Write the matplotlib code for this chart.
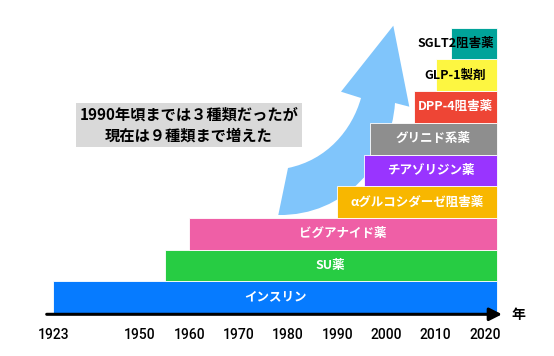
import numpy as np
import matplotlib
matplotlib.use("Agg")
import matplotlib.pyplot as plt
from matplotlib.path import Path
from matplotlib.patches import PathPatch
import matplotlib.transforms as mtransforms

plt.rcParams['font.family'] = ['Noto Sans CJK JP', 'DejaVu Sans']

# ---- data ----
drugs = ['インスリン', 'SU薬', 'ビグアナイド薬', 'αグルコシダーゼ阻害薬', 'チアゾリジン薬',
         'グリニド系薬', 'DPP-4阻害薬', 'GLP-1製剤', 'SGLT2阻害薬']
start_years = [1923, 1955, 1960, 1990, 1995.5, 1996.6, 2005.5, 2010, 2013]
end_year = 2022.4
bar_colors = ['#067bff', '#27cc43', '#ef5fa6', '#f8b700', '#9934ff',
              '#8e8e8e', '#ee4535', '#fdf641', '#00a39a']
tick_years = [1923, 1950, 1960, 1970, 1980, 1990, 2000, 2010, 2020]
note_text = '1990年頃までは３種類だったが\n現在は９種類まで増えた'

W, H = 554, 356
fig = plt.figure(figsize=(W / 100, H / 100), dpi=100)
ax_bottom = 1 - 314.3 / H
ax = fig.add_axes([0, ax_bottom, 1, 1 - ax_bottom])

# compressed scale before 1950 (axis break between 1923 and 1950)
K = 0.65
def fwd(x):
    x = np.asarray(x, float)
    return np.where(x >= 1950, x, 1950 - (1950 - x) * K)
def inv(u):
    u = np.asarray(u, float)
    return np.where(u >= 1950, u, 1950 - (1950 - u) / K)
ax.set_xscale('function', functions=(fwd, inv))

px_per_year = 4.93
u_left = 1950 - 140 / px_per_year
u_right = 1950 + (W - 140) / px_per_year
ax.set_xlim(float(inv(u_left)), u_right)
row_h = 31.7
ax.set_ylim(-0.5 - 1.3 / row_h, -0.5 + 313 / row_h)

rows = np.arange(len(drugs))
widths = [end_year - s for s in start_years]
ax.barh(rows, widths, left=start_years, height=1.0, color=bar_colors,
        edgecolor='white', linewidth=0.6, zorder=3)

for i, (name, s) in enumerate(zip(drugs, start_years)):
    narrow = (end_year - s) < 15
    if narrow:
        x, c = 2014.0, 'black'
    else:
        x, c = float(inv((fwd(s) + fwd(end_year)) / 2)), 'white'
    ax.text(x, i, name, ha='center', va='center', color=c, fontsize=9,
            fontweight='bold', zorder=5)

for sp in ax.spines.values():
    sp.set_visible(False)
ax.set_yticks([])
ax.set_xticks(tick_years)
ax.set_xticklabels([str(t) for t in tick_years], fontsize=10, fontweight='medium',
                   family=['Roboto', 'DejaVu Sans'])
ax.tick_params(axis='x', length=0, pad=10)
ax.patch.set_alpha(0)

# time axis arrow
ax.annotate('', xy=(502 / W, 0), xytext=(46.7 / W, 0), xycoords='axes fraction',
            arrowprops=dict(arrowstyle='-|>,head_length=0.75,head_width=0.38',
                            lw=2.2, color='black', shrinkA=0, shrinkB=0),
            annotation_clip=False, zorder=6)
fig.text(518 / W, 1 - 315 / H, '年', ha='center', va='center', fontsize=10,
         fontweight='bold')

# pixel transform for decorations
pix = mtransforms.Affine2D().scale(1 / W, -1 / H).translate(0, 1) + fig.transFigure

# big curved arrow (decoration)
verts = [(288, 168), (327, 160), (352, 130), (361, 98),
         (341, 91.7), (393.3, 25.7), (409.3, 106.7), (395, 103),
         (391, 162), (345, 216), (278.3, 215), (288, 168)]
codes = [Path.MOVETO, Path.CURVE4, Path.CURVE4, Path.CURVE4,
         Path.LINETO, Path.LINETO, Path.LINETO, Path.LINETO,
         Path.CURVE4, Path.CURVE4, Path.CURVE4, Path.CLOSEPOLY]
arrow = PathPatch(Path(verts, codes), facecolor='#80c5fb', edgecolor='none',
                  transform=pix, zorder=1, clip_on=False)
ax.add_patch(arrow)

# note box
fig.text(189 / W, 1 - 125 / H, note_text, ha='center', va='center', fontsize=11,
         fontweight='bold', linespacing=1.35,
         bbox=dict(boxstyle='square,pad=0.25', facecolor='#d9d9d9', edgecolor='none'))

fig.savefig('out.png', dpi=100)
